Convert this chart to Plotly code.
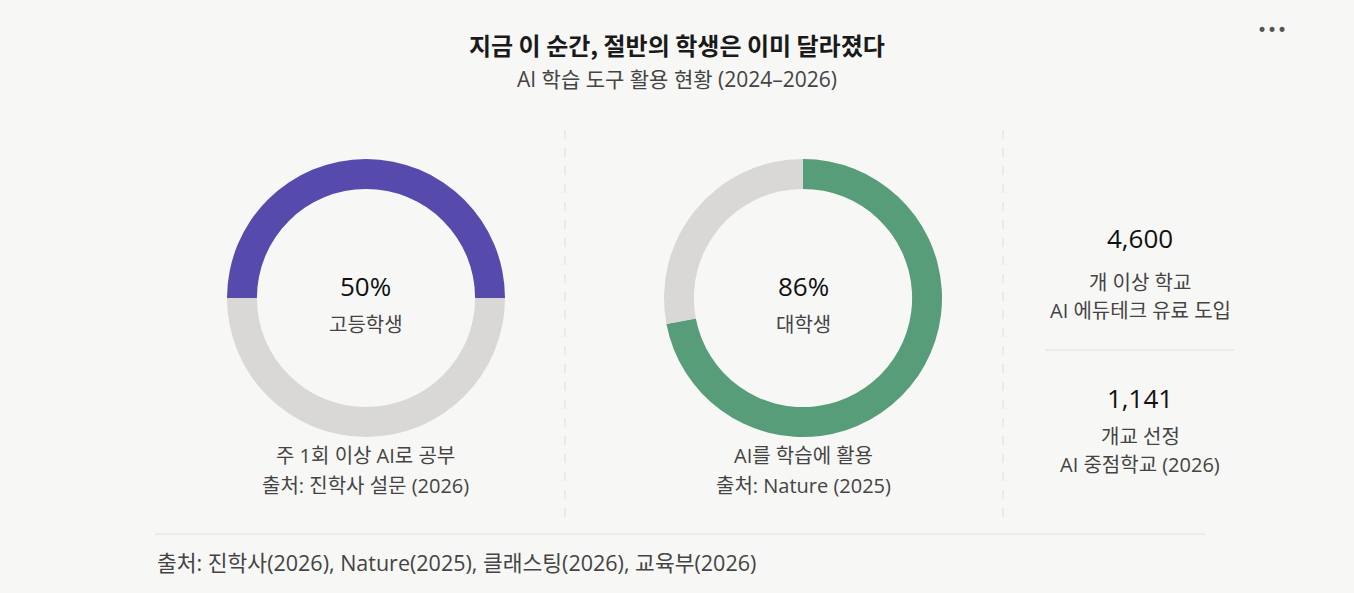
import plotly.graph_objects as go

W, H = 1354, 593
FONT = "Open Sans, Noto Sans CJK KR"
KFONT = "Noto Sans CJK KR"
BG = "#f7f7f5"
GREY = "#d9d8d6"

# donut data
donut_names = ["고등학생", "대학생"]
donut_pct = [50, 86]          # printed in the centre
donut_arc = [50, 72]          # share of the ring that is coloured in the picture
donut_colors = ["#574aad", "#579d79"]
donut_start = [270, 0]  # degrees where filled arc begins
donut_captions = [["주 1회 이상 AI로 공부", "출처: 진학사 설문 (2026)"],
                  ["AI를 학습에 활용", "출처: Nature (2025)"]]

# right-hand stats
stat_values = ["4,600", "1,141"]
stat_lines = [["개 이상 학교", "AI 에듀테크 유료 도입"],
              ["개교 선정", "AI 중점학교 (2026)"]]

title = "지금 이 순간, 절반의 학생은 이미 달라졌다"
subtitle = "AI 학습 도구 활용 현황 (2024–2026)"
source = "출처: 진학사(2026), Nature(2025), 클래스팅(2026), 교육부(2026)"


def px(x):
    return x / W


def py(y):
    return 1 - y / H


fig = go.Figure()
annots = []

centers = [366, 803]
R, CY = 139, 298
for i, cx in enumerate(centers):
    fig.add_trace(go.Pie(
        values=[donut_arc[i], 100 - donut_arc[i]],
        marker=dict(colors=[donut_colors[i], GREY], line=dict(width=0)),
        hole=0.785, sort=False, direction="clockwise", rotation=donut_start[i],
        textinfo="none", hoverinfo="skip", showlegend=False,
        domain=dict(x=[px(cx - R), px(cx + R)], y=[py(CY + R), py(CY - R)]),
    ))
    annots.append(dict(x=px(cx), y=py(286), text="%d%%" % donut_pct[i],
                       font=dict(size=26, color="#111111", family=FONT, weight=500)))
    annots.append(dict(x=px(cx), y=py(324), text=donut_names[i],
                       font=dict(size=20, color="#444444", family=FONT)))
    for j, line in enumerate(donut_captions[i]):
        annots.append(dict(x=px(cx), y=py(456 + j * 29), text=line,
                           font=dict(size=20, color="#444444", family=FONT)))

sx = 1140
for i, val in enumerate(stat_values):
    top = 238 + i * 160
    annots.append(dict(x=px(sx), y=py(top), text=val,
                       font=dict(size=26, color="#111111", family=FONT, weight=500)))
    for j, line in enumerate(stat_lines[i]):
        annots.append(dict(x=px(sx), y=py(top + 44 - i * 6 + j * 28), text=line,
                           font=dict(size=20, color="#444444", family=FONT)))

annots.append(dict(x=0.5, y=py(44), text="<b>" + title + "</b>",
                   font=dict(size=24, color="#1a1a1a", family=KFONT)))
annots.append(dict(x=0.5, y=py(79), text=subtitle,
                   font=dict(size=21, color="#444444", family=FONT)))
annots.append(dict(x=px(155), y=py(562), text=source, xanchor="left",
                   font=dict(size=21.5, color="#444444", family=FONT)))
annots.append(dict(x=px(1272), y=py(30), text="•••",
                   font=dict(size=17, color="#555555", family="DejaVu Sans")))

for a in annots:
    a.setdefault("xanchor", "center")
    a.update(xref="paper", yref="paper", yanchor="middle", showarrow=False)

shapes = []
for x in [565, 1003]:
    shapes.append(dict(type="line", xref="paper", yref="paper",
                       x0=px(x), x1=px(x), y0=py(130), y1=py(518),
                       line=dict(color="#dddddb", width=1, dash="dash")))
shapes.append(dict(type="line", xref="paper", yref="paper",
                   x0=px(155), x1=px(1205), y0=py(534), y1=py(534),
                   line=dict(color="#e0e0de", width=1)))
shapes.append(dict(type="line", xref="paper", yref="paper",
                   x0=px(1045), x1=px(1234), y0=py(350), y1=py(350),
                   line=dict(color="#e0e0de", width=1)))

fig.update_layout(
    width=W, height=H, margin=dict(l=0, r=0, t=0, b=0),
    paper_bgcolor=BG, plot_bgcolor=BG,
    annotations=annots, shapes=shapes,
    font=dict(family=FONT),
)

fig.write_html("out.html", config={"displayModeBar": False},
               post_script="document.body.style.margin='0';"
                           "document.body.style.background='%s';" % BG)
